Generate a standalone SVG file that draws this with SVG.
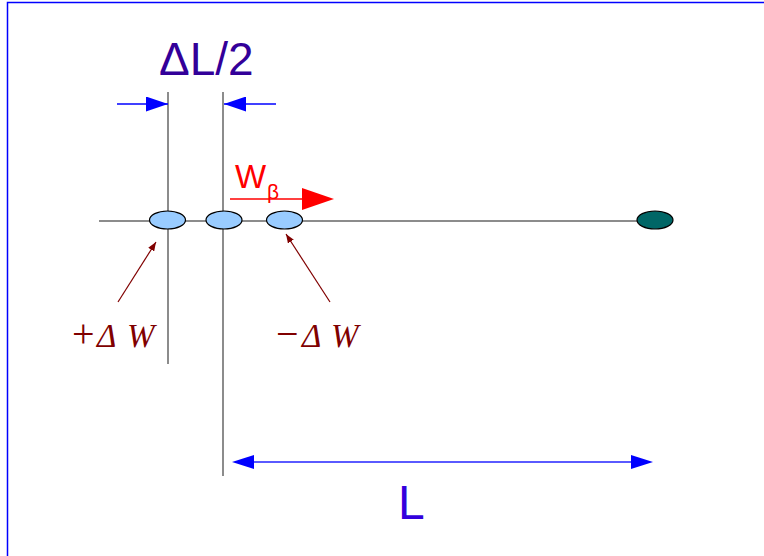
<svg xmlns="http://www.w3.org/2000/svg" width="764" height="556" viewBox="0 0 764 556">
<style>
.axis{stroke:#666;stroke-width:1.5;fill:none}
.bead{fill:#99ccff;stroke:#000;stroke-width:1.2}
.blue{stroke:#0000ff;stroke-width:1.3;fill:none}
.brown{stroke:#800000;stroke-width:1.2;fill:none}
.math{font-family:"Liberation Serif",serif;font-size:33px;fill:#800000}
.op{font-size:40px}
.sans{font-family:"Liberation Sans",Arial,sans-serif}
</style>
<defs>
<marker id="bh" markerWidth="22" markerHeight="15" refX="22" refY="7.5" orient="auto" markerUnits="userSpaceOnUse"><path d="M0,0 L22,7.5 L0,15 Z" fill="#0000ff"/></marker>
<marker id="rh" markerWidth="9" markerHeight="7" refX="9" refY="3.5" orient="auto" markerUnits="userSpaceOnUse"><path d="M0,0 L9,3.5 L0,7 Z" fill="#800000"/></marker>
</defs>
<rect x="7.5" y="2.5" width="780" height="580" fill="#fff" stroke="#0000ff" stroke-width="1.5"/>
<g id="connectors">
<line class="axis" x1="99" y1="221" x2="640" y2="221"/>
<line class="axis" x1="168" y1="92" x2="168" y2="364"/>
<line class="axis" x1="223" y1="92" x2="223" y2="476"/>
<line class="blue" x1="117" y1="104" x2="168" y2="104" marker-end="url(#bh)"/>
<line class="blue" x1="276" y1="104" x2="224" y2="104" marker-end="url(#bh)"/>
<line x1="254" y1="462" x2="632" y2="462" stroke="#5a5aff" stroke-width="2"/>
<path d="M232,462 L254,455 L254,469 Z" fill="#0000ff"/>
<path d="M653,462 L631,455 L631,469 Z" fill="#0000ff"/>
<line x1="230" y1="199" x2="303" y2="199" stroke="#ff0000" stroke-width="1.3"/>
<path d="M302,188 L334,199 L302,210 Z" fill="#ff0000"/>
<line class="brown" x1="118" y1="302" x2="156" y2="242" marker-end="url(#rh)"/>
<line class="brown" x1="330" y1="302" x2="286" y2="234" marker-end="url(#rh)"/>
</g>
<g id="bead1"><ellipse class="bead" cx="167.5" cy="220" rx="18" ry="9"/></g>
<g id="bead2"><ellipse class="bead" cx="224" cy="220" rx="18" ry="9"/></g>
<g id="bead3"><ellipse class="bead" cx="284.5" cy="220" rx="18" ry="9"/></g>
<g id="end"><ellipse cx="655" cy="220" rx="18" ry="9" fill="#006666" stroke="#000" stroke-width="1.2"/></g>
<g id="label-dl"><text class="sans" x="159" y="75" font-size="46" fill="#330099">ΔL/2</text></g>
<g id="label-w"><text class="sans" x="235" y="188" font-size="33" fill="#ff0000">W<tspan x="267" y="199" font-size="21">β</tspan></text></g>
<g id="label-plus"><text class="math" y="347"><tspan class="op" x="72">+</tspan><tspan x="97" font-style="italic">Δ</tspan><tspan x="127" font-style="italic">W</tspan></text></g>
<g id="label-minus"><text class="math" y="347"><tspan class="op" x="276">−</tspan><tspan x="302" font-style="italic">Δ</tspan><tspan x="331" font-style="italic">W</tspan></text></g>
<g id="label-L"><text class="sans" x="398" y="519" font-size="48" fill="#3300dd">L</text></g>
</svg>
